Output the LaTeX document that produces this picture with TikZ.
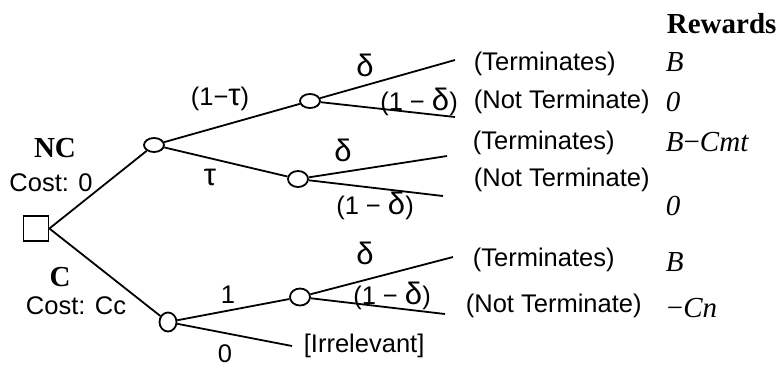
\documentclass[tikz,border=0pt]{standalone}
\usepackage{fontspec}
\setmainfont{Liberation Serif}
\setsansfont{Liberation Sans}
\usetikzlibrary{shapes.geometric}
\newcommand{\gk}[1]{{\fontsize{31}{31}\selectfont #1}}
\begin{document}
\begin{tikzpicture}[x=1pt,y=-1pt, line width=1.8pt,
  chance/.style={draw, ellipse, minimum width=20pt, minimum height=14pt, inner sep=0pt},
  decision/.style={draw, rectangle, minimum size=25pt, inner sep=0pt},
  lbl/.style={font=\sffamily\fontsize{25.5}{30}\selectfont, inner sep=0pt},
  outc/.style={lbl, anchor=west},
  rew/.style={font=\fontsize{29}{34}\selectfont, inner sep=0pt, anchor=west},
  hd/.style={font=\fontsize{29}{34}\selectfont\bfseries, inner sep=0pt}]
\useasboundingbox (0,0) rectangle (778,368);

% decision and chance nodes
\node[decision] (sq) at (36,228.5) {};
\node[chance] (n1) at (154,145) {};
\node[chance, minimum width=17pt, minimum height=19pt] (n2) at (168,322) {};
\node[chance] (a) at (310,101) {};
\node[chance, minimum height=16pt] (b) at (298,179) {};
\node[chance, minimum height=17pt] (c) at (300,297) {};

% terminal ends
\coordinate (a1) at (455,60);
\coordinate (a2) at (455,117);
\coordinate (b1) at (447,156);
\coordinate (b2) at (443,196);
\coordinate (c1) at (453,257);
\coordinate (c2) at (445,314);
\coordinate (ir) at (292,346);

% connectors
\draw (sq.east) -- (n1);
\draw (sq.east) -- (n2);
\draw (n1) -- (a);
\draw (n1) -- (b);
\draw (n2) -- (c);
\draw (n2) -- (ir);
\draw (a) -- (a1);
\draw (a) -- (a2);
\draw (b) -- (b1);
\draw (b) -- (b2);
\draw (c) -- (c1);
\draw (c) -- (c2);

% left labels
\node[hd] (nc) at (55,148) {NC};
\node[lbl] (cost0) at (51,183) {Cost: 0};
\node[hd] (cc) at (60,277) {C};
\node[lbl] (costc) at (76,306) {Cost: Cc};

% branch labels
\node[lbl] (l1) at (220,99) {(1−\gk{τ})};
\node[lbl] (l2) at (210,177) {\gk{τ}};
\node[lbl] (l3) at (365,65) {\gk{δ}};
\node[lbl] (l4) at (419,102) {(1 − \gk{δ})};
\node[lbl] (l5) at (343,150) {\gk{δ}};
\node[lbl] (l6) at (375,206) {(1 − \gk{δ})};
\node[lbl] (l7) at (228,295) {1};
\node[lbl] (l8) at (225,354) {0};
\node[lbl] (l9) at (365,253) {\gk{δ}};
\node[lbl] (l10) at (392,296) {(1 − \gk{δ})};
\node[lbl, anchor=west] (irr) at (303,346) {[Irrelevant]};

% outcomes
\node[outc] (o1) at (473,64) {(Terminates)};
\node[outc] (o2) at (473,102) {(Not Terminate)};
\node[outc] (o3) at (472,143) {(Terminates)};
\node[outc] (o4) at (473,180) {(Not Terminate)};
\node[outc] (o5) at (472,260) {(Terminates)};
\node[outc] (o6) at (465,306) {(Not Terminate)};

% rewards
\node[hd, anchor=west] (rw) at (666,24) {Rewards};
\node[rew] (r1) at (665,62) {\textit{B}};
\node[rew] (r2) at (665,102) {\textit{0}};
\node[rew] (r3) at (665,142) {\textit{B}−\textit{Cmt}};
\node[rew] (r4) at (665,206) {\textit{0}};
\node[rew] (r5) at (665,262) {\textit{B}};
\node[rew] (r6) at (666,308) {−\textit{Cn}};
\end{tikzpicture}
\end{document}
